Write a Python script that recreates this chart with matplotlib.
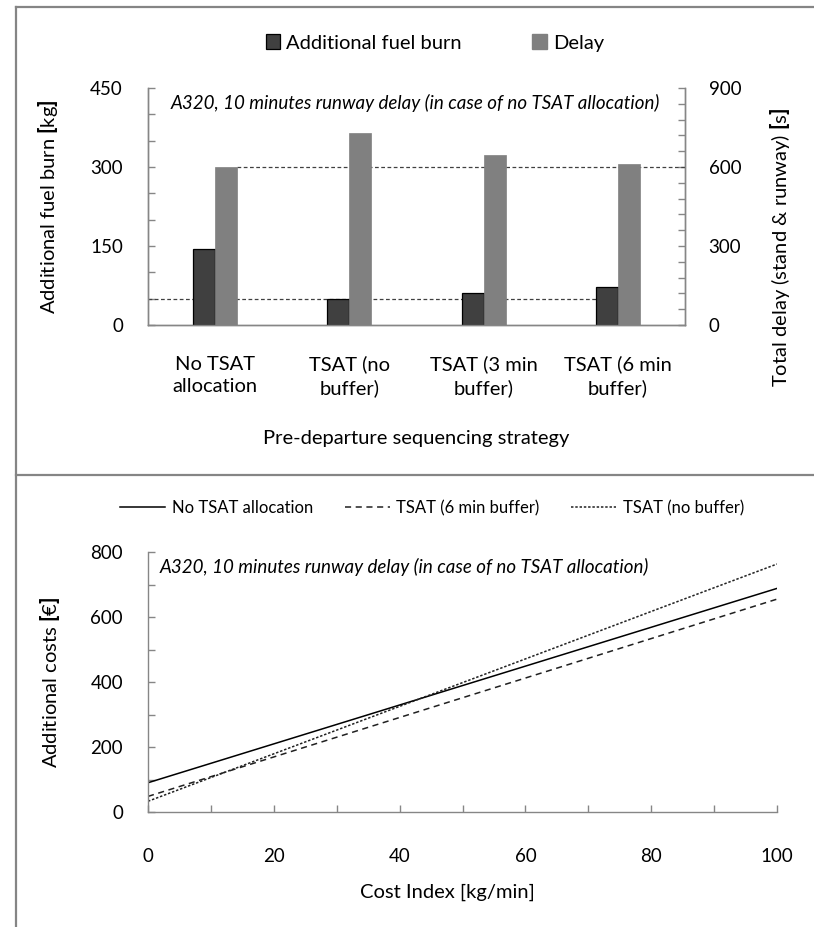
import numpy as np
import matplotlib.pyplot as plt
from matplotlib.lines import Line2D
from matplotlib.patches import Patch
from matplotlib.ticker import MultipleLocator

plt.rcParams['font.family'] = 'Lato'
plt.rcParams['mathtext.fontset'] = 'custom'
plt.rcParams['mathtext.rm'] = 'Lato'
plt.rcParams['mathtext.bf'] = 'Lato:black'
plt.rcParams['mathtext.it'] = 'Lato:italic'

# data
strategies = ['No TSAT\nallocation', 'TSAT (no\nbuffer)', 'TSAT (3 min\nbuffer)', 'TSAT (6 min\nbuffer)']
fuel_kg = [145, 50, 60, 73]
delay_s = [600, 728, 645, 610]

cost_index = [0, 100]
cost_no_tsat = [90, 688]
cost_6min = [48, 655]
cost_no_buffer = [33, 763]

note = 'A320, 10 minutes runway delay (in case of no TSAT allocation)'
spine_col = '#868686'
fs_tick = 13.5
fs_lab = 14.5
fs_note = 13.5

W, H = 814, 927
fig = plt.figure(figsize=(W / 100, H / 100), dpi=100)

# outer frame / divider
frame = '#858585'
fig.add_artist(Line2D([16 / W, 1], [1 - 7 / H] * 2, color=frame, lw=1.6))
fig.add_artist(Line2D([16 / W] * 2, [0, 1 - 7 / H], color=frame, lw=1.6))
fig.add_artist(Line2D([16 / W, 1], [1 - 475 / H] * 2, color=frame, lw=1.6))
fig.text(124 / W, 1 + 5.5 / H, 'g', fontsize=26, color='#7a7a7a', va='baseline')


def style_axis(ax):
    for s in ax.spines.values():
        s.set_color(spine_col)
        s.set_linewidth(1.0)
    ax.tick_params(which='both', direction='in', color=spine_col, length=5, width=1.0,
                   labelsize=fs_tick)


# ---- top: bars ----
ax1 = fig.add_axes([148 / W, 1 - 325 / H, 537 / W, 237 / H])
ax2 = ax1.twinx()
x = np.arange(len(strategies))
w = 0.163

ax1.bar(x - w / 2, fuel_kg, w, color='#404040', edgecolor='black', linewidth=0.9, zorder=3)
ax2.bar(x + w / 2, delay_s, w, color='#808080', edgecolor='#808080', linewidth=0.5, zorder=3)

ax1.hlines(fuel_kg[1], -0.5, x[-1] - w, colors='#404040', linestyles=(0, (3, 2)), lw=0.9, zorder=2)
ax2.hlines(delay_s[0], x[0] + w, 3.5, colors='#404040', linestyles=(0, (3, 2)), lw=0.9, zorder=2)

ax1.set_xlim(-0.5, 3.5)
ax1.set_ylim(0, 450)
ax2.set_ylim(0, 900)
ax1.yaxis.set_major_locator(MultipleLocator(150))
ax1.yaxis.set_minor_locator(MultipleLocator(50))
ax2.yaxis.set_major_locator(MultipleLocator(300))
ax2.yaxis.set_minor_locator(MultipleLocator(60))
for a in (ax1, ax2):
    style_axis(a)
    a.spines['top'].set_visible(False)
ax1.set_xticks(x)
ax1.set_xticklabels(strategies, linespacing=1.4, fontsize=fs_lab)
ax1.tick_params(axis='x', length=0, pad=22)
ax1.tick_params(axis='y', pad=18)
ax2.tick_params(axis='y', pad=17)

ax1.set_ylabel(r'Additional fuel burn $\mathbf{[}$kg$\mathbf{]}$', fontsize=fs_lab)
ax1.yaxis.set_label_coords(-0.164, 0.5)
ax2.set_ylabel(r'Total delay (stand & runway) $\mathbf{[}$s$\mathbf{]}$', fontsize=fs_lab)
ax2.yaxis.set_label_coords(1.155, 0.33)
ax1.set_xlabel('Pre-departure sequencing strategy', fontsize=fs_lab)
ax1.xaxis.set_label_coords(0.5, -0.477)
ax1.xaxis.label.set_va('center')

ax1.text(0.043, 0.937, note, transform=ax1.transAxes, fontsize=fs_note, style='italic',
         va='center', ha='left')

handles = [Patch(facecolor='#404040', edgecolor='black', linewidth=0.9),
           Patch(facecolor='#808080', edgecolor='#808080')]
fig.legend(handles, ['Additional fuel burn', 'Delay'], loc='center',
           bbox_to_anchor=(435 / W, 1 - 43 / H), ncol=2, frameon=False, fontsize=fs_lab,
           handlelength=0.7, handleheight=0.7, handletextpad=0.3, columnspacing=3.5)

# ---- bottom: lines ----
ax3 = fig.add_axes([148 / W, 1 - 812 / H, 629 / W, 260 / H])
l1, = ax3.plot(cost_index, cost_no_tsat, color='black', lw=1.1)
l2, = ax3.plot(cost_index, cost_6min, color='#202020', lw=1.1, linestyle=(0, (4, 3)))
l3, = ax3.plot(cost_index, cost_no_buffer, color='#202020', lw=1.1, linestyle=(0, (1.6, 1.2)))
ax3.set_xlim(0, 100)
ax3.set_ylim(0, 800)
ax3.xaxis.set_major_locator(MultipleLocator(20))
ax3.xaxis.set_minor_locator(MultipleLocator(10))
ax3.yaxis.set_major_locator(MultipleLocator(200))
ax3.yaxis.set_minor_locator(MultipleLocator(100))
style_axis(ax3)
ax3.spines['top'].set_visible(False)
ax3.spines['right'].set_visible(False)
ax3.tick_params(axis='x', pad=26)
ax3.tick_params(axis='y', pad=18)

ax3.set_ylabel(r'Additional costs $\mathbf{[}$€$\mathbf{]}$', fontsize=fs_lab)
ax3.yaxis.set_label_coords(-0.137, 0.5)
ax3.set_xlabel('Cost Index [kg/min]', fontsize=fs_lab)
ax3.xaxis.set_label_coords(0.476, -0.308)
ax3.xaxis.label.set_va('center')
ax3.text(0.019, 0.942, note, transform=ax3.transAxes, fontsize=fs_note, style='italic',
         va='center', ha='left')

fig.legend([l1, l2, l3], ['No TSAT allocation', 'TSAT (6 min buffer)', 'TSAT (no buffer)'],
           loc='center', bbox_to_anchor=(432 / W, 1 - 508 / H), ncol=3, frameon=False,
           fontsize=12, handlelength=2.7, handletextpad=0.4, columnspacing=1.9)

fig.savefig('out.png', dpi=100, facecolor='white')
